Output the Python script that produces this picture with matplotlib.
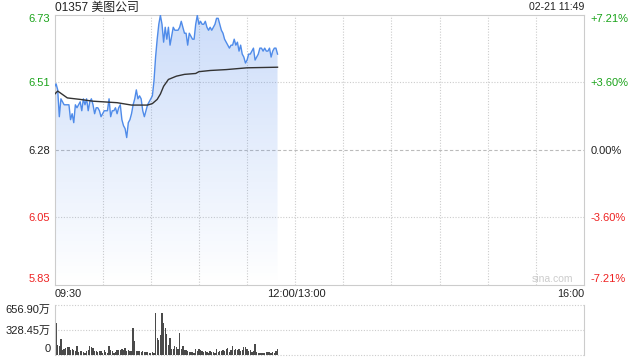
import numpy as np
import matplotlib
matplotlib.use('Agg')
import matplotlib.pyplot as plt

plt.rcParams['font.family'] = ['Liberation Sans', 'Noto Sans CJK SC']

# 分时数据 09:30 - 11:49, 每分钟一个点
price = [
    6.49, 6.50, 6.48, 6.39, 6.45, 6.44, 6.43, 6.43, 6.43, 6.43,
    6.38, 6.40, 6.37, 6.43, 6.42, 6.43, 6.44, 6.41, 6.45, 6.43,
    6.45, 6.41, 6.44, 6.45, 6.43, 6.40, 6.42, 6.42, 6.41, 6.39,
    6.40, 6.41, 6.41, 6.41, 6.45, 6.39, 6.41, 6.41, 6.42, 6.40,
    6.42, 6.43, 6.38, 6.36, 6.35, 6.32, 6.37, 6.38, 6.40, 6.43,
    6.45, 6.48, 6.45, 6.46, 6.45, 6.41, 6.39, 6.41, 6.43, 6.44,
    6.45, 6.46, 6.51, 6.59, 6.65, 6.70, 6.73, 6.70, 6.64, 6.69,
    6.65, 6.69, 6.63, 6.66, 6.69, 6.68, 6.68, 6.68, 6.69, 6.71,
    6.69, 6.67, 6.67, 6.63, 6.67, 6.66, 6.65, 6.65, 6.70, 6.73,
    6.70, 6.71, 6.70, 6.70, 6.71, 6.69, 6.68, 6.69, 6.68, 6.69,
    6.70, 6.72, 6.72, 6.70, 6.68, 6.67, 6.65, 6.64, 6.63, 6.62,
    6.63, 6.63, 6.65, 6.63, 6.64, 6.61, 6.63, 6.60, 6.59, 6.57,
    6.58, 6.60, 6.60, 6.61, 6.62, 6.58, 6.59, 6.60, 6.62, 6.62,
    6.61, 6.62, 6.61, 6.61, 6.62, 6.59, 6.61, 6.62, 6.62, 6.60,
]

# 均价线
avg_t = [0, 2, 8, 16, 24, 39, 48, 58, 61, 64, 66, 68, 71, 76, 81, 88, 90, 97, 107, 120, 139]
avg_v = [6.465, 6.476, 6.453, 6.448, 6.442, 6.437, 6.429, 6.429, 6.434, 6.448, 6.466,
         6.492, 6.515, 6.526, 6.532, 6.535, 6.541, 6.545, 6.548, 6.554, 6.556]

# 成交量 (万)
vol = [
    656.9, 419, 130, 117, 207, 65, 73, 86, 95, 95,
    65, 73, 65, 52, 117, 30, 52, 43, 30, 22,
    52, 65, 117, 95, 86, 43, 52, 30, 52, 52,
    22, 65, 30, 22, 117, 65, 43, 22, 30, 65,
    65, 65, 73, 65, 86, 52, 65, 52, 43, 346,
    181, 43, 52, 43, 30, 43, 30, 30, 30, 22,
    22, 30, 22, 549, 216, 194, 259, 549, 410, 354,
    272, 130, 216, 78, 78, 117, 95, 78, 281, 73,
    108, 56, 65, 43, 30, 30, 30, 22, 73, 43,
    73, 65, 52, 30, 43, 30, 22, 43, 30, 30,
    22, 73, 30, 43, 52, 65, 43, 73, 86, 30,
    65, 108, 65, 73, 65, 73, 52, 65, 95, 95,
    73, 43, 65, 30, 52, 143, 30, 22, 22, 22,
    22, 22, 30, 30, 30, 22, 30, 22, 43, 73,
]

prev_close = 6.28
pct_ticks = [7.21, 3.60, 0.00, -3.60, -7.21]
price_labels = ['6.73', '6.51', '6.28', '6.05', '5.83']
pct_labels = ['+7.21%', '+3.60%', '0.00%', '-3.60%', '-7.21%']
vol_ticks = [0, 328.45, 656.90]
vol_labels = ['0', '328.45万', '656.90万']

GREEN = '#1aa31a'
RED = '#ee2222'
GRID = '#cccccc'
FS = 8

price_ticks = [prev_close * (1 + p / 100) for p in pct_ticks]
hi, lo = price_ticks[0], price_ticks[-1]

W, H = 640, 360
def box(l, t, r, b):
    return [l / W, 1 - b / H, (r - l) / W, (b - t) / H]

fig = plt.figure(figsize=(6.4, 3.6), dpi=100)
ax = fig.add_axes(box(54.5, 14.5, 584, 284.5))
axv = fig.add_axes(box(54.5, 304.5, 584, 354.5))

t = np.arange(len(price))

# 渐变填充
poly = ax.fill_between(t, price, lo, color='none', lw=0)
grad = np.zeros((256, 1, 4))
grad[:, 0, 0] = 0.33
grad[:, 0, 1] = 0.55
grad[:, 0, 2] = 0.93
grad[:, 0, 3] = np.clip(np.linspace(0.30, 0.0, 256), 0, 1)
img = ax.imshow(grad, extent=[0, t[-1], lo, hi], aspect='auto', origin='upper', zorder=1)
img.set_clip_path(poly.get_paths()[0], transform=ax.transData)

ax.plot(t, price, color='#4f8be9', lw=1.0, zorder=3)
ax.plot(avg_t, avg_v, color='#333333', lw=1.0, zorder=3)

ax.set_xlim(0, 330)
ax.set_ylim(lo, hi)

for m in range(30, 330, 30):
    ax.axvline(m, color=GRID, lw=0.8, ls=(0, (1, 1.5)), zorder=0)
for p in price_ticks[1:-1]:
    if p == prev_close:
        ax.axhline(p, color='#bbbbbb', lw=0.8, ls=(0, (3, 2)), zorder=0)
    else:
        ax.axhline(p, color=GRID, lw=0.8, ls=(0, (1, 1.5)), zorder=0)

for s in ax.spines.values():
    s.set_color(GRID)
ax.set_xticks([])
ax.set_yticks(price_ticks)
ax.set_yticklabels(price_labels)
ax.tick_params(axis='y', length=0, pad=3, labelsize=FS)
colors = [GREEN, GREEN, '#222222', RED, RED]
for lab, c in zip(ax.get_yticklabels(), colors):
    lab.set_color(c)
ax.get_yticklabels()[0].set_verticalalignment('top')
ax.get_yticklabels()[-1].set_verticalalignment('bottom')

ax2 = ax.twinx()
ax2.set_ylim(lo, hi)
ax2.set_yticks(price_ticks)
ax2.set_yticklabels(pct_labels)
ax2.tick_params(axis='y', length=0, pad=4.5, labelsize=FS)
for lab, c in zip(ax2.get_yticklabels(), colors):
    lab.set_color(c)
ax2.get_yticklabels()[0].set_verticalalignment('top')
ax2.get_yticklabels()[-1].set_verticalalignment('bottom')
for s in ax2.spines.values():
    s.set_visible(False)

# 成交量
axv.bar(t, vol, width=0.8, color='#4a4a4a', lw=0)
axv.set_xlim(0, 330)
axv.set_ylim(0, vol_ticks[-1])
for v in vol_ticks:
    axv.axhline(v, color=GRID, lw=0.8, ls=(0, (1, 1.5)), zorder=0, clip_on=False)
axv.spines['top'].set_visible(False)
axv.spines['bottom'].set_visible(False)
axv.spines['left'].set_color(GRID)
axv.spines['right'].set_color(GRID)
axv.set_xticks([])
axv.set_yticks(vol_ticks)
axv.set_yticklabels(vol_labels)
axv.tick_params(axis='y', length=0, pad=3, labelsize=FS, labelcolor='#222222')
axv.get_yticklabels()[0].set_verticalalignment('bottom')
axv.get_yticklabels()[-1].set_verticalalignment('top')

# 文本
fig.text(55 / W, 1 - 7.5 / H, '01357 美图公司', fontsize=8.6, va='center', ha='left', color='#222222')
fig.text(584 / W, 1 - 7.5 / H, '02-21 11:49', fontsize=7.6, va='center', ha='right', color='#222222')
fig.text(55 / W, 1 - 294 / H, '09:30', fontsize=7.8, va='center', ha='left', color='#222222')
fig.text(296 / W, 1 - 294 / H, '12:00/13:00', fontsize=8, va='center', ha='center', color='#222222')
fig.text(584 / W, 1 - 294 / H, '16:00', fontsize=7.8, va='center', ha='right', color='#222222')
fig.text(573 / W, 1 - 279 / H, 'sina.com', fontsize=7.5, va='center', ha='right', color='#cccccc')

fig.savefig('out.png', dpi=100)
